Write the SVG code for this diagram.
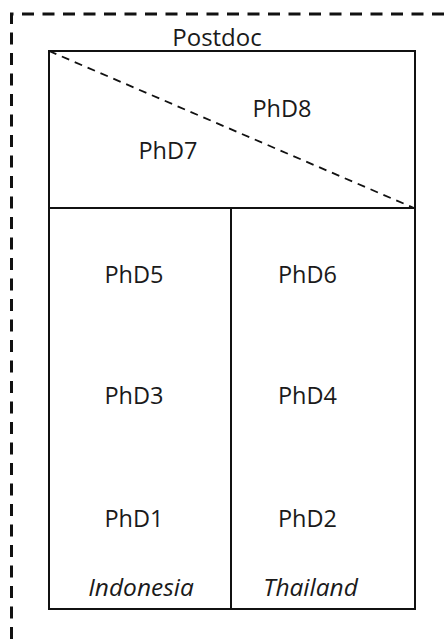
<svg xmlns="http://www.w3.org/2000/svg" width="448" height="639" viewBox="0 0 448 639">
<style>
.lbl{font-family:"Open Sans","Liberation Sans",sans-serif;font-size:23.5px;fill:#1a1a1a;text-anchor:middle}
.it{font-style:italic;font-size:24.5px}
.pd{font-size:24px}
.box{fill:none;stroke:#111;stroke-width:2}
</style>
<rect width="448" height="639" fill="#fff"/>
<g id="outer"><path d="M11.5 639 V14 H448" fill="none" stroke="#111" stroke-width="3" stroke-dasharray="12 8.5"/></g>
<g id="postdoc">
<rect class="box" x="49" y="51" width="366" height="157"/>
<text class="lbl pd" x="217" y="46">Postdoc</text>
</g>
<g id="connectors"><line x1="49" y1="51" x2="414" y2="208" stroke="#111" stroke-width="1.8" stroke-dasharray="8 6"/></g>
<g id="phd8"><text class="lbl" x="282" y="117">PhD8</text></g>
<g id="phd7"><text class="lbl" x="168" y="159">PhD7</text></g>
<g id="indonesia">
<rect class="box" x="49" y="208" width="182" height="401"/>
<text class="lbl it" x="141" y="596">Indonesia</text>
</g>
<g id="thailand">
<rect class="box" x="231" y="208" width="184" height="401"/>
<text class="lbl it" x="310.5" y="596">Thailand</text>
</g>
<g id="phd5"><text class="lbl" x="134" y="283">PhD5</text></g>
<g id="phd6"><text class="lbl" x="307.5" y="283">PhD6</text></g>
<g id="phd3"><text class="lbl" x="134" y="404">PhD3</text></g>
<g id="phd4"><text class="lbl" x="307.5" y="404">PhD4</text></g>
<g id="phd1"><text class="lbl" x="134" y="527">PhD1</text></g>
<g id="phd2"><text class="lbl" x="307.5" y="527">PhD2</text></g>
</svg>
